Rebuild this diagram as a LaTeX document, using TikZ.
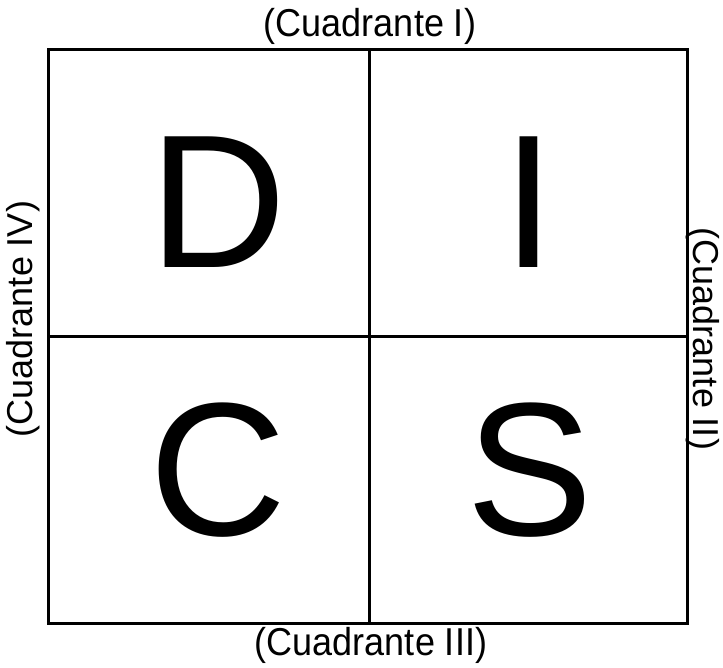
\documentclass[tikz,border=0pt]{standalone}
\usepackage{fontspec}
\setmainfont{Liberation Sans}
\begin{document}
\begin{tikzpicture}[x=1pt,y=-1pt,
  frame/.style={draw=black,line width=3pt},
  biglet/.style={inner sep=0pt,font=\fontsize{190}{190}\selectfont},
  qlabel/.style={inner sep=0pt,font=\fontsize{36}{36}\selectfont}]
\useasboundingbox[fill=white] (0,0) rectangle (723,668);
\coordinate (tl) at (48,50);
\coordinate (br) at (687,623);
\coordinate (tm) at (369,50);
\coordinate (bm) at (369,623);
\coordinate (lm) at (48,337);
\coordinate (rm) at (687,337);
\draw[frame] (tl) rectangle (br);
\draw[frame] (tm) -- (bm);
\draw[frame] (lm) -- (rm);
\node[biglet] (D) at (218,202) {D};
\node[biglet] (I) at (529,202) {I};
\node[biglet] (C) at (218,470) {C};
\node[biglet] (S) at (530,470) {S};
\node[qlabel,yscale=1.08] (q1) at (370,26) {(Cuadrante I)};
\node[qlabel,yscale=1.08] (q3) at (371,645) {(Cuadrante III)};
\node[qlabel,rotate=90] (q4) at (23,319) {(Cuadrante IV)};
\node[qlabel,rotate=-90] (q2) at (703,339) {(Cuadrante II)};
\end{tikzpicture}
\end{document}
